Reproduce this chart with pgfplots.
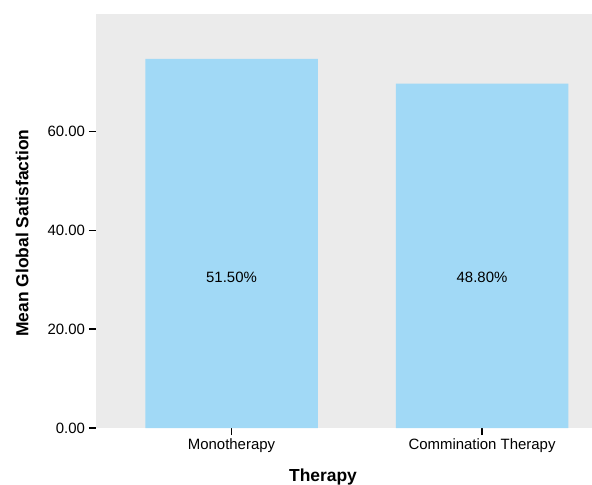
\documentclass[border=0pt]{standalone}
\usepackage{fontspec}
\setmainfont{Liberation Sans}
\usepackage{pgfplots}
\pgfplotsset{compat=1.18}
\definecolor{panelbg}{RGB}{235,235,235}
\definecolor{barblue}{RGB}{161,217,246}
\begin{document}
\begin{tikzpicture}
\useasboundingbox (-96bp,-57bp) rectangle (496bp,428bp);
\begin{axis}[
  at={(0,0)}, anchor=south west,
  scale only axis, width=496bp, height=414bp,
  xmin=-0.541, xmax=1.439, ymin=0, ymax=83.8,
  axis background/.style={fill=panelbg},
  axis line style={draw=none},
  ybar, bar width=172.5bp,
  xtick={0,1}, xticklabels={Monotherapy,Commination Therapy},
  ytick={0,20,40,60},
  xtick pos=left, ytick pos=left,
  tick align=outside,
  major tick length=7bp,
  tick style={black, line width=1.6bp},
  /pgf/number format/.cd, fixed, fixed zerofill, precision=2, assume math mode=true,
  /pgfplots/.cd,
  ticklabel style={font=\fontsize{15}{18}\selectfont},
  yticklabel style={xshift=-0.5bp},
  xticklabel style={yshift=0bp},
  xlabel={Therapy}, ylabel={Mean Global Satisfaction},
  label style={font=\bfseries\fontsize{17.5}{20}\selectfont},
  xlabel style={at={(axis description cs:0.4577,-0.1297)}, anchor=base},
  ylabel style={at={(axis description cs:-0.149,0.471)}, anchor=center},
  clip=false,
]
\addplot[fill=barblue, draw=none] coordinates {(0,74.7) (1,69.7)};
\node[font=\fontsize{15}{18}\selectfont] at (axis cs:0,30.5) {51.50\%};
\node[font=\fontsize{15}{18}\selectfont] at (axis cs:1,30.5) {48.80\%};
\end{axis}
\end{tikzpicture}
\end{document}
